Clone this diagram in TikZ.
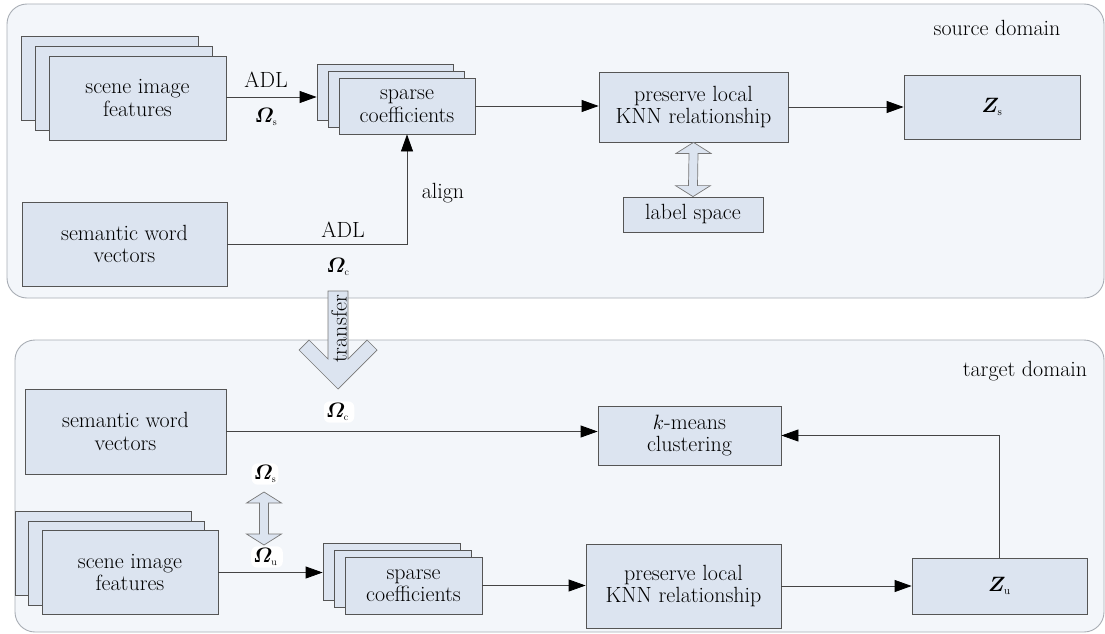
\documentclass[tikz,border=0pt]{standalone}
\usepackage{amsmath}
\usepackage{bm}
\usetikzlibrary{arrows.meta,calc}

\definecolor{panelfill}{HTML}{F3F6FA}
\definecolor{panelline}{HTML}{A8ADB4}
\definecolor{boxfill}{HTML}{DCE4F0}
\definecolor{boxline}{HTML}{555555}
\definecolor{wire}{HTML}{444444}

\newcommand{\Om}[1]{$\bm{\varOmega}_{\scriptscriptstyle\mathrm{#1}}$}

\tikzset{
  panel/.style={draw=panelline, fill=panelfill, line width=0.9pt, rounded corners=20pt},
  box/.style={draw=boxline, fill=boxfill, line width=0.8pt, inner sep=0pt, align=center},
  conn/.style={draw=wire, line width=0.8pt, -{Triangle[length=17pt,width=12pt,fill=black,color=black]}},
  fat/.style={draw=boxline!80, fill=boxfill, line width=0.7pt, line join=miter},
  lbl/.style={inner sep=1pt},
  omlbl/.style={inner sep=2pt, font=\fontsize{20}{22}\selectfont},
  blob/.style={omlbl, fill=white, rounded corners=6pt},
}

\begin{document}
\begin{tikzpicture}[x=1pt, y=-1pt, font=\fontsize{22}{22.5}\selectfont]
\useasboundingbox (0,0) rectangle (1105,634);

% ---------- panels ----------
\draw[panel] (7,4) rectangle (1104,298);
\draw[panel] (15,340) rectangle (1104,632);

% ---------- source domain ----------
\node[lbl] (srcname) at (997,28) {source domain};

\node[box, minimum width=177pt, minimum height=84pt] (sifC) at (110,78) {};
\node[box, minimum width=177pt, minimum height=84pt] (sifB) at (123.5,88) {};
\node[box, minimum width=177pt, minimum height=84pt] (sifA) at (137.5,98) {scene image\\features};

\node[box, minimum width=136pt, minimum height=56pt] (spC) at (385,92) {};
\node[box, minimum width=136pt, minimum height=56pt] (spB) at (396,99) {};
\node[box, minimum width=136pt, minimum height=56pt] (spA) at (407,106) {sparse\\coefficients};

\node[box, minimum width=189pt, minimum height=70pt] (pres) at (693.5,107) {preserve local\\KNN relationship};
\node[box, minimum width=176pt, minimum height=64pt] (zs) at (992,107) {$\bm{Z}_{\scriptscriptstyle\mathrm{s}}$};
\node[box, minimum width=140pt, minimum height=35pt] (lab) at (693,214.5) {label space};
\node[box, minimum width=205pt, minimum height=84pt] (sem) at (124.5,244) {semantic word\\vectors};

\draw[conn] (sifA.east |- 0,97) -- (spC.west |- 0,97);
\node[lbl] (adlA) at (266,80) {ADL};
\node[omlbl] (omsA) at (266,117) {\Om{s}};

\draw[conn] (spA.east) -- (spA.east -| pres.west);
\draw[conn] (pres.east) -- (pres.east -| zs.west);

\draw[conn] (sem.east) -| (spA.south);
\node[lbl] (adlB) at (343,230) {ADL};
\node[omlbl] (omcA) at (338,267) {\Om{c}};
\node[lbl] (align) at (443,193) {align};

% label space link
\draw[fat] (pres.south) -- ++(17.5,11) -- ++(-13,0) -- ($(lab.north)+(4.5,-11)$)
  -- ++(13,0) -- (lab.north) -- ++(-17.5,-11) -- ++(13,0) -- ($(pres.south)+(-4.5,11)$)
  -- ++(-13,0) -- cycle;

% ---------- target domain ----------
\node[lbl] (tgtname) at (1025,371) {target domain};

\node[box, minimum width=201pt, minimum height=85pt] (semT) at (125.5,431.5) {semantic word\\vectors};
\node[box, minimum width=183pt, minimum height=59pt] (km) at (689.5,435.5) {$k$-means\\clustering};

\node[box, minimum width=176pt, minimum height=84pt] (sifTC) at (103,553) {};
\node[box, minimum width=176pt, minimum height=84pt] (sifTB) at (116,563) {};
\node[box, minimum width=176pt, minimum height=84pt] (sifTA) at (130,572.5) {scene image\\features};

\node[box, minimum width=137pt, minimum height=57pt] (spTC) at (391.5,572) {};
\node[box, minimum width=137pt, minimum height=57pt] (spTB) at (402.5,579) {};
\node[box, minimum width=137pt, minimum height=57pt] (spTA) at (413.5,585.5) {sparse\\coefficients};

\node[box, minimum width=195pt, minimum height=84pt] (presT) at (683.5,586) {preserve local\\KNN relationship};
\node[box, minimum width=175pt, minimum height=56pt] (zu) at (999.5,586) {$\bm{Z}_{\scriptscriptstyle\mathrm{u}}$};

\draw[conn] (semT.east) -- (semT.east -| km.west);
\draw[conn] (zu.north) |- (km.east);
\draw[conn] (sifTA.east) -- (sifTA.east -| spTC.west);
\draw[conn] (spTA.east) -- (spTA.east -| presT.west);
\draw[conn] (presT.east) -- (presT.east -| zu.west);

\node[blob] (omcT) at (339,412) {\Om{c}\,};
\node[blob] (omsT) at (265,474) {\Om{s}};
\node[blob] (omuT) at (267,557) {\Om{u}\,};

% dictionary link between the domains
\coordinate (dTop) at (264,492);
\coordinate (dBot) at (264,545);
\draw[fat] (dTop) -- ++(17.5,11) -- ++(-13,0) -- ($(dBot)+(4.5,-11)$)
  -- ++(13,0) -- (dBot) -- ++(-17.5,-11) -- ++(13,0) -- ($(dTop)+(-4.5,11)$)
  -- ++(-13,0) -- cycle;

% transfer arrow
\draw[fat] (328,291) -- (348,291) -- (348,359) -- (367,340) -- (377,350)
  -- (338,389) -- (299,350) -- (309,340) -- (328,359) -- cycle;
\node[rotate=90, inner sep=0pt] (transfer) at (339,329) {transfer};
\end{tikzpicture}
\end{document}
